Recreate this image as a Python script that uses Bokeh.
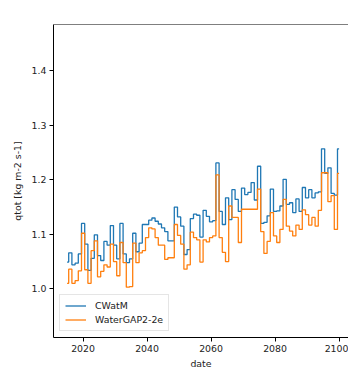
from bokeh.plotting import figure
from bokeh.models import FixedTicker, Span, Label, Range1d, PrintfTickFormatter, Legend, LegendItem
from bokeh.embed import file_html
from bokeh.resources import INLINE

# Annual total runoff (qtot), values in units of 1e-5 kg m-2 s-1
years = list(range(2015, 2101))

cwatm = [
    1.049, 1.066, 1.044, 1.047, 1.064, 1.120, 1.082, 1.034, 1.056, 1.099,
    1.061, 1.052, 1.087, 1.080, 1.116, 1.080, 1.055, 1.120, 1.064, 1.048,
    1.055, 1.102, 1.068, 1.084, 1.118, 1.118, 1.126, 1.130, 1.124, 1.119,
    1.112, 1.105, 1.088, 1.088, 1.150, 1.132, 1.115, 1.063, 1.072, 1.129,
    1.137, 1.135, 1.095, 1.144, 1.133, 1.123, 1.125, 1.231, 1.142, 1.118,
    1.167, 1.127, 1.182, 1.164, 1.142, 1.185, 1.173, 1.177, 1.195, 1.163,
    1.225, 1.120, 1.122, 1.134, 1.183, 1.142, 1.143, 1.152, 1.201, 1.155,
    1.158, 1.140, 1.165, 1.142, 1.186, 1.167, 1.182, 1.167, 1.176, 1.178,
    1.257, 1.212, 1.222, 1.175, 1.172, 1.257,
]

watergap = [
    1.010, 1.036, 1.010, 1.015, 1.033, 1.102, 1.035, 1.010, 1.070, 1.088,
    1.022, 1.032, 1.044, 1.040, 1.082, 1.050, 1.024, 1.085, 1.048, 1.003,
    1.004, 1.084, 1.048, 1.066, 1.070, 1.094, 1.112, 1.110, 1.094, 1.080,
    1.080, 1.054, 1.057, 1.057, 1.118, 1.098, 1.082, 1.036, 1.044, 1.104,
    1.094, 1.090, 1.049, 1.090, 1.086, 1.094, 1.097, 1.209, 1.094, 1.067,
    1.050, 1.152, 1.131, 1.131, 1.085, 1.146, 1.146, 1.146, 1.146, 1.146,
    1.183, 1.105, 1.065, 1.087, 1.140, 1.097, 1.085, 1.109, 1.164, 1.115,
    1.106, 1.097, 1.117, 1.109, 1.145, 1.136, 1.117, 1.131, 1.115, 1.144,
    1.213, 1.213, 1.160, 1.171, 1.109, 1.212,
]

series_names = ["CWatM", "WaterGAP2-2e"]
series_colors = ["#1f77b4", "#ff7f0e"]
x_ticks = [2020, 2040, 2060, 2080, 2100]
y_ticks = [1.0, 1.1, 1.2, 1.3, 1.4]

FONT = "DejaVu Sans"
TICK_SIZE = "9.4px"

x_start, x_end = 2010.75, 2102.94
y_start, y_end = 0.9106, 1.4852

p = figure(
    width=348, height=371,
    output_backend="svg", toolbar_location=None,
    x_range=Range1d(x_start, x_end), y_range=Range1d(y_start, y_end),
    min_border_left=53, min_border_right=0,
    min_border_top=24, min_border_bottom=32,
)
p.background_fill_color = "white"
p.border_fill_color = "white"
p.outline_line_color = None
p.grid.visible = False

renderers = []
for vals, color in zip([cwatm, watergap], series_colors):
    r = p.step(years, vals, mode="center", line_color=color, line_width=1.3)
    renderers.append(r)

# top spine
p.add_layout(Span(location=y_end, dimension="width", line_color="black", line_width=1))

for ax in (p.xaxis[0], p.yaxis[0]):
    ax.axis_line_color = "black"
    ax.axis_line_width = 1
    ax.major_tick_line_color = "black"
    ax.major_tick_out = 4
    ax.major_tick_in = 0
    ax.minor_tick_line_color = None
    ax.major_label_text_font = FONT
    ax.major_label_text_font_size = TICK_SIZE
    ax.major_label_text_color = "#222222"
    ax.axis_label_text_font = FONT
    ax.axis_label_text_font_size = TICK_SIZE
    ax.axis_label_text_font_style = "normal"
    ax.axis_label_text_color = "#222222"

p.xaxis.ticker = FixedTicker(ticks=x_ticks)
p.xaxis.formatter = PrintfTickFormatter(format="%d")
p.xaxis.axis_label = "date"
p.xaxis.major_label_standoff = 3
p.xaxis.axis_label_standoff = 3

p.yaxis.ticker = FixedTicker(ticks=y_ticks)
p.yaxis.formatter = PrintfTickFormatter(format="%.1f")
p.yaxis.axis_label = "qtot [kg m-2 s-1]"
p.yaxis.major_label_standoff = 3
p.yaxis.axis_label_standoff = 6

# title and offset text above the frame
p.add_layout(Label(
    x=(x_start + 2104.25) / 2, y=y_end, y_offset=10,
    text="qtot mri-esm2-0", text_font=FONT, text_font_size="11.3px",
    text_align="center", text_baseline="middle", text_color="#111111",
))
p.add_layout(Label(
    x=x_start, y=y_end, y_offset=6,
    text="1e-5", text_font=FONT, text_font_size=TICK_SIZE,
    text_align="left", text_baseline="middle", text_color="#222222",
))

legend = Legend(
    items=[LegendItem(label=n, renderers=[r]) for n, r in zip(series_names, renderers)],
    location="bottom_left",
    margin=6, padding=5, spacing=3,
    glyph_width=21, glyph_height=11, label_height=11, label_standoff=9,
    label_text_font=FONT, label_text_font_size=TICK_SIZE, label_text_color="#222222",
    border_line_color="#cccccc", border_line_width=1,
    background_fill_alpha=0.8,
)
p.add_layout(legend)

open("out.html", "w").write(file_html(p, INLINE))
